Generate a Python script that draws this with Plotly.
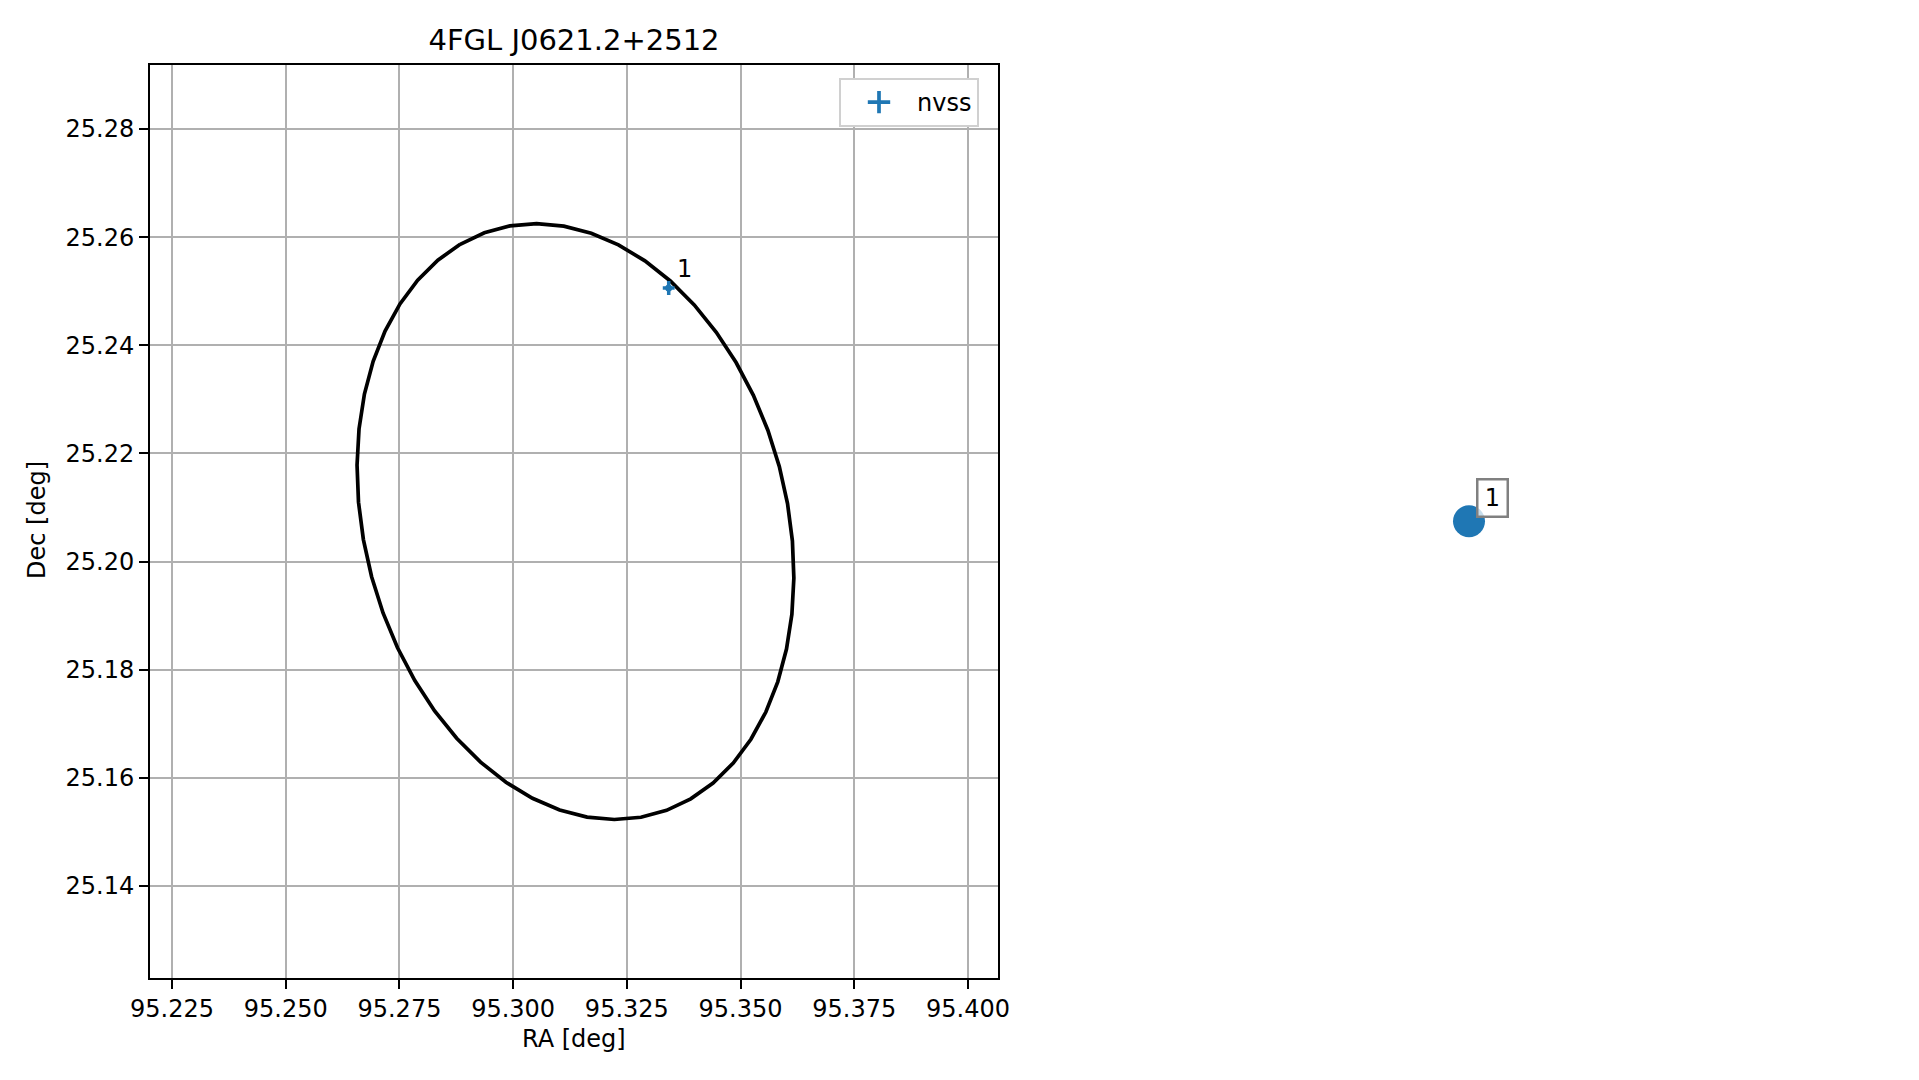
import numpy as np
import plotly.graph_objects as go

# ---------------- data ----------------
title_text = "4FGL J0621.2+2512"

# 95% localisation ellipse of the Fermi source (plot plane, degrees)
ell_center_ra = 95.3137
ell_center_dec = 25.2074
ell_semi_major = 0.0572
ell_semi_minor = 0.0455
ell_angle_deg = 116.3
ell_n_vertices = 50

# NVSS counterpart
nvss_ra = [95.3342]
nvss_dec = [25.2506]
nvss_ra_err = [0.0013]
nvss_dec_err = [0.0013]
nvss_labels = ["1"]

# right-hand panel (single labelled source marker)
panel_x = [0.0]
panel_y = [0.0]
panel_labels = ["1"]

ra_ticks = [95.225, 95.250, 95.275, 95.300, 95.325, 95.350, 95.375, 95.400]
dec_ticks = [25.14, 25.16, 25.18, 25.20, 25.22, 25.24, 25.26, 25.28]
ra_range = [95.22016, 95.40660]
dec_range = [25.12308, 25.29184]

# ---------------- ellipse outline from its parameters ----------------
t = np.linspace(0, 2 * np.pi, ell_n_vertices + 1)
phi = np.deg2rad(ell_angle_deg)
ell_x = ell_center_ra + ell_semi_major * np.cos(t) * np.cos(phi) - ell_semi_minor * np.sin(t) * np.sin(phi)
ell_y = ell_center_dec + ell_semi_major * np.cos(t) * np.sin(phi) + ell_semi_minor * np.sin(t) * np.cos(phi)

W, H = 1919, 1080
OFF = 8  # page body margin of the html wrapper
BLUE = "#1f77b4"
FONT = "DejaVu Sans"


def px(xp):
    return (xp - OFF) / W


def py(yp):
    return 1 - (yp - OFF) / H


# plot frame in screen pixels
L, R, T, B = 150, 998, 65, 977.5
xdom = [px(L), px(R)]
ydom = [py(B), py(T)]

fig = go.Figure()

fig.add_trace(go.Scatter(
    x=ell_x, y=ell_y, mode="lines",
    line=dict(color="black", width=3.7),
    showlegend=False, hoverinfo="skip",
))

fig.add_trace(go.Scatter(
    x=nvss_ra, y=nvss_dec, mode="markers",
    marker=dict(color=BLUE, size=7),
    error_x=dict(type="data", array=nvss_ra_err, color=BLUE, thickness=3.5, width=0),
    error_y=dict(type="data", array=nvss_dec_err, color=BLUE, thickness=3.5, width=0),
    showlegend=False, name="nvss",
))

# legend handle (errorbar-like cross)
fig.add_trace(go.Scatter(
    x=[None], y=[None], mode="markers", name="nvss",
    marker=dict(symbol="cross-thin", size=24, color=BLUE, line=dict(width=3.7, color=BLUE)),
))

fig.add_trace(go.Scatter(
    x=panel_x, y=panel_y, mode="markers", xaxis="x2", yaxis="y2",
    marker=dict(color=BLUE, size=32),
    showlegend=False,
))

annotations = []
for x, y, lab in zip(nvss_ra, nvss_dec, nvss_labels):
    annotations.append(dict(
        x=x, y=y, xref="x", yref="y", text=lab, showarrow=False,
        xshift=16, yshift=19, font=dict(size=24, color="black", family=FONT),
    ))
for x, y, lab in zip(panel_x, panel_y, panel_labels):
    annotations.append(dict(
        x=x, y=y, xref="x2", yref="y2", text=lab, showarrow=False,
        xshift=23, yshift=23, width=24, height=31,
        font=dict(size=24, color="black", family=FONT),
        bordercolor="#808080", borderwidth=2.5, borderpad=2,
        bgcolor="rgba(255,255,255,0.75)",
    ))

# axis titles
annotations.append(dict(
    x=px((L + R) / 2), y=py(1039), xref="paper", yref="paper",
    text="RA [deg]", showarrow=False, xanchor="center", yanchor="middle",
    font=dict(size=24, color="black", family=FONT),
))
annotations.append(dict(
    x=px(37), y=py(520), xref="paper", yref="paper",
    text="Dec [deg]", showarrow=False, xanchor="center", yanchor="middle",
    textangle=-90, font=dict(size=24, color="black", family=FONT),
))

axis_common = dict(
    showgrid=True, gridcolor="#b0b0b0", gridwidth=2,
    showline=True, linecolor="black", linewidth=2, mirror=True,
    ticks="outside", ticklen=9, tickwidth=2, tickcolor="black",
    tickfont=dict(size=24, color="black", family=FONT),
    zeroline=False, automargin=False,
)

fig.update_layout(
    width=W, height=H,
    margin=dict(l=0, r=0, t=0, b=0),
    paper_bgcolor="white", plot_bgcolor="white",
    title=dict(
        text=title_text, x=px((L + R) / 2), y=py(40),
        xanchor="center", yanchor="middle", xref="paper", yref="paper",
        font=dict(size=29, color="black", family=FONT),
    ),
    xaxis=dict(domain=xdom, range=ra_range, tickvals=ra_ticks,
               tickformat=".3f", **axis_common),
    yaxis=dict(domain=ydom, range=dec_range, tickvals=dec_ticks,
               tickformat=".2f", **axis_common),
    xaxis2=dict(domain=[px(1369), px(1569)], range=[-1, 1], visible=False, anchor="y2"),
    yaxis2=dict(domain=ydom, range=[-1, 1], visible=False, anchor="x2"),
    legend=dict(
        x=px(839), y=py(78), xanchor="left", yanchor="top",
        bordercolor="#d0d0d0", borderwidth=2, bgcolor="white",
        itemwidth=66,
        font=dict(size=24, color="black", family=FONT),
    ),
    annotations=annotations,
    showlegend=True,
)

fig.write_html("out.html")
